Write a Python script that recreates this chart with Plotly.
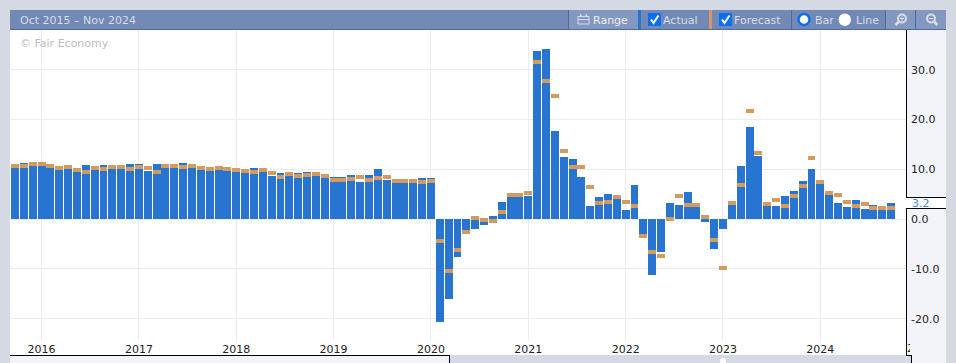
import plotly.graph_objects as go

actual = [10.2, 11.2, 10.6, 10.6, 10.2, 9.8, 10.0, 9.4, 10.8, 9.8, 10.8, 10.0, 10.0, 11.0, 11.0, 9.6,
          11.0, 10.2, 10.2, 11.2, 10.2, 9.8, 9.6, 9.8, 9.6, 9.4, 9.2, 10.2, 9.4, 8.6, 9.2, 8.6,
          9.2, 9.4, 8.6, 8.2, 8.4, 8.4, 8.8, 7.4, 8.8, 10.0, 7.8, 7.2, 7.2, 7.2, 8.2, 8.2,
          -20.7, -16.1, -7.6, -3.0, -2.0, -1.2, 0.7, 3.5, 4.5, 4.5, 4.7, 33.8, 34.2, 17.7, 12.5, 12.1,
          8.5, 2.7, 4.5, 5.1, 4.1, 1.9, 6.9, -2.9, -11.2, -6.7, 3.3, 2.9, 5.5, 2.5, -0.5, -6.0,
          -1.9, 2.9, 10.7, 18.5, 12.7, 2.7, 2.7, 4.7, 5.7, 7.7, 10.1, 7.1, 4.9, 3.3, 2.5, 3.9,
          2.1, 2.9, 1.9, 3.2]
forecast = [10.6, 10.6, 11.0, 11.0, 10.6, 10.2, 10.4, 9.8, 9.5, 10.2, 10.0, 10.4, 10.4, 10.0, 10.4, 10.2,
            9.4, 10.6, 10.6, 10.4, 10.6, 10.2, 10.0, 10.2, 10.0, 9.8, 9.6, 9.4, 9.8, 9.2, 8.4, 9.0,
            8.6, 8.8, 9.0, 8.6, 7.8, 7.8, 8.0, 8.4, 7.8, 8.2, 8.4, 7.6, 7.6, 7.6, 7.4, 7.6,
            -4.4, -10.4, -6.2, -2.6, 0.2, -0.2, -0.4, 1.5, 4.9, 4.9, 5.3, 31.6, 27.8, 24.8, 13.7, 10.5,
            10.5, 6.5, 3.3, 3.5, 4.5, 3.5, 2.7, -3.3, -6.6, -7.4, 0.1, 4.7, 2.9, 2.9, 0.5, -4.2,
            -9.8, 3.3, 6.9, 21.8, 13.3, 3.1, 3.9, 2.7, 4.7, 6.7, 12.3, 7.5, 5.3, 4.9, 3.5, 2.7,
            3.1, 2.3, 2.3, 2.3]
positions = list(range(len(actual)))
tick_positions = [3, 14, 25, 36, 47, 58, 69, 80, 91]
tick_labels = ["2016", "2017", "2018", "2019", "2020", "2021", "2022", "2023", "2024"]
y_ticks = [-20, -10, 0, 10, 20, 30]
FORECAST_BAND = 0.8

BG = "#d5d9e3"; BAR = "#7289b5"; BTN = "#8397bf"; EDGE = "#4f69a3"; PANEL = "#f3f4f9"
BLUE = "#2775d0"; ORANGE = "#d39b5f"; GRID = "#ebebf2"; LIGHT = "#d8dde9"; FONT = "DejaVu Sans"
W, H = 956, 363
L, R, T, B = 10, 906, 30, 341  # plot area in page pixels


def fx(x):
    return (x - L) / (R - L)


def fy(y):
    return (B - y) / (B - T)


def px(x0, y0, x1, y1, fill=None, line=None, lw=1, kind="rect", layer="below"):
    return dict(type=kind, xref="paper", yref="paper", x0=fx(x0), x1=fx(x1), y0=fy(y0), y1=fy(y1),
                fillcolor=fill, line=dict(color=line, width=lw if line else 0), layer=layer)


def path(d, fill=None, line=None, lw=1):
    return dict(type="path", xref="paper", yref="paper", path=d, fillcolor=fill,
                line=dict(color=line, width=lw if line else 0), layer="above")


def P(x, y):
    return f"{fx(x):.5f},{fy(y):.5f}"


def note(x, y, text, size=11, color=LIGHT, anchor="left", **kw):
    return dict(xref="paper", yref="paper", x=fx(x), y=fy(y), text=text, showarrow=False,
                xanchor=anchor, yanchor="middle", font=dict(family=FONT, size=size, color=color), **kw)


fig = go.Figure()
fig.add_bar(x=positions, y=actual, width=0.9, marker=dict(color=BLUE, line_width=0), name="Actual")
fig.add_bar(x=positions, y=[FORECAST_BAND] * len(forecast), base=[f - FORECAST_BAND / 2 for f in forecast],
            width=0.9, marker=dict(color=ORANGE, line_width=0), name="Forecast",
            customdata=forecast, hovertemplate="%{customdata}<extra>Forecast</extra>")

shapes = [
    px(10, 30, 906, 355, fill="#ffffff"),
    px(906, 30, 946, 363, fill=PANEL),
    px(10, 355, 450, 363, fill=PANEL),
    px(450, 356, 906, 363, fill=BG),
    px(906.5, 356, 911.5, 363, fill=BG),
    px(10, 10, 946, 29, fill=BAR),
    px(10, 29, 946, 30, fill=EDGE),
    px(569, 10, 638, 29, fill=BTN),
    px(885, 10, 946, 29, fill=BTN),
    px(568, 10, 569, 29, fill=EDGE),
    px(791, 10, 792, 29, fill=EDGE),
    px(885, 10, 886, 29, fill=EDGE),
    px(915, 10, 916, 29, fill=EDGE),
    px(638, 10, 641, 29, fill=BLUE),
    px(709, 10, 712, 29, fill=ORANGE),
    px(906, 197, 946, 208, fill="#ffffff"),
    # axis and scroller outlines
    px(906, 30, 907, 197, fill="#000000", layer="above"),
    px(906, 197, 946, 198, fill="#000000", layer="above"),
    px(906, 208, 946, 209, fill="#000000", layer="above"),
    px(906, 208, 907, 356, fill="#000000", layer="above"),
    px(10, 355, 450, 356, fill="#000000", layer="above"),
    px(449, 355, 450, 363, fill="#000000", layer="above"),
    px(906, 355, 912, 356, fill="#000000", layer="above"),
    px(911, 355, 912, 363, fill="#000000", layer="above"),
    px(720, 358, 726, 364, fill="#ffffff", kind="circle", layer="above"),
    # checkboxes
    px(648, 13, 661, 26, fill="#0b6ff0", layer="above"),
    px(719, 13, 732, 26, fill="#0b6ff0", layer="above"),
    path(f"M{P(651, 19.5)} L{P(653.5, 23)} L{P(658.5, 15.5)}", line="#ffffff", lw=2),
    path(f"M{P(722, 19.5)} L{P(724.5, 23)} L{P(729.5, 15.5)}", line="#ffffff", lw=2),
    # radio buttons
    px(798.5, 14, 809.5, 25, fill="#ffffff", line="#0b6ff0", lw=2.5, kind="circle", layer="above"),
    px(838.5, 13.5, 851, 26, fill="#ffffff", kind="circle", layer="above"),
    # calendar icon
    px(578, 16.5, 589, 24, line=LIGHT, lw=1, layer="above"),
    px(578, 19, 589, 20, fill=LIGHT, layer="above"),
    px(580, 14, 581.5, 17, fill=LIGHT, layer="above"),
    px(585.5, 14, 587, 17, fill=LIGHT, layer="above"),
    # zoom icons
    px(898, 14.5, 906, 22.5, line=LIGHT, lw=2, kind="circle", layer="above"),
    path(f"M{P(899, 21.5)} L{P(895.5, 25)}", line=LIGHT, lw=2.5),
    path(f"M{P(899.8, 18.5)} L{P(904.2, 18.5)} M{P(902, 16.3)} L{P(902, 20.7)}", line=LIGHT, lw=1),
    px(927, 14.5, 935, 22.5, line=LIGHT, lw=2, kind="circle", layer="above"),
    path(f"M{P(934, 21.5)} L{P(937.5, 25)}", line=LIGHT, lw=2.5),
    path(f"M{P(928.8, 18.5)} L{P(933.2, 18.5)}", line=LIGHT, lw=1),
]

annotations = [
    note(17.5, 20, "Oct 2015 – Nov 2024"),
    note(18, 43, "© Fair Economy", color="#bdbdbd"),
    note(591, 20, "Range", color="#eceff5"),
    note(661, 20, "Actual"),
    note(732, 20, "Forecast"),
    note(813, 20, "Bar"),
    note(854, 20, "Line"),
    note(910, 203, "3.2", color="#4a86d8"),
    note(904.5, 348, "2025", color="#222222", width=3, align="left"),
]

fig.update_layout(
    width=W, height=H, margin=dict(l=L, r=W - R, t=T, b=H - B), autosize=False,
    paper_bgcolor=BG, plot_bgcolor="rgba(0,0,0,0)", showlegend=False, barmode="overlay", bargap=0,
    font=dict(family=FONT, size=11, color="#222222"),
    shapes=shapes, annotations=annotations,
    xaxis=dict(range=[-0.565, 100.68], tickmode="array", tickvals=tick_positions, ticktext=tick_labels,
               showgrid=True, gridcolor=GRID, gridwidth=1, zeroline=False, showline=False, ticks="",
               automargin=False, tickangle=0, tickfont=dict(size=11, color="#222222")),
    yaxis=dict(side="right", range=[-24.48, 37.97], tickmode="array", tickvals=y_ticks,
               ticktext=[f"{v:.1f}" for v in y_ticks], showgrid=True, gridcolor=GRID, gridwidth=1,
               zeroline=False, showline=False, ticks="", automargin=False, ticklabelstandoff=4,
               tickfont=dict(size=11, color="#222222")),
)

fig.write_html("out.html", config=dict(displayModeBar=False), post_script="document.body.style.margin='0';")
